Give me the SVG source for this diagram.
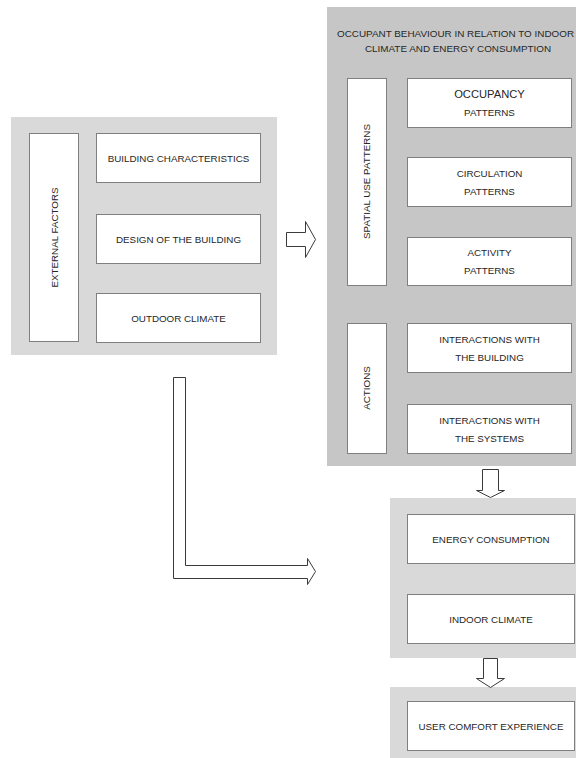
<svg xmlns="http://www.w3.org/2000/svg" width="576" height="758" viewBox="0 0 576 758">
<style>
.bg{fill:#ffffff}
.pl{fill:#d9d9d9}
.pd{fill:#c6c6c6}
.box{fill:#ffffff;stroke:#7f7f7f;stroke-width:1}
.t{font-family:"Liberation Sans",Arial,sans-serif;font-size:9.8px;fill:#262626;text-anchor:middle}
.big{font-size:11.2px}
.ttl{font-size:9.9px}
.arr{fill:#ffffff;stroke:#3a3a3a;stroke-width:1;stroke-linejoin:miter}
</style>
<rect class="bg" x="0" y="0" width="576" height="758"/>
<g id="external-panel">
<rect class="pl" x="11" y="117" width="266" height="238"/>
</g>
<g id="external-factors">
<rect class="box" x="29.5" y="133.5" width="49" height="208"/>
<text class="t" transform="translate(57.5,237.5) rotate(-90)">EXTERNAL FACTORS</text>
</g>
<g id="building-characteristics">
<rect class="box" x="96.5" y="133.5" width="164" height="49"/>
<text class="t" x="178.5" y="161.5">BUILDING CHARACTERISTICS</text>
</g>
<g id="design">
<rect class="box" x="96.5" y="214.5" width="164" height="49"/>
<text class="t" x="178.5" y="242.5">DESIGN OF THE BUILDING</text>
</g>
<g id="outdoor-climate">
<rect class="box" x="96.5" y="293.5" width="164" height="49"/>
<text class="t" x="178.5" y="321.5">OUTDOOR CLIMATE</text>
</g>
<g id="behaviour-panel">
<rect class="pd" x="327" y="7" width="260" height="459"/>
<text class="t ttl" x="455.5" y="37">OCCUPANT BEHAVIOUR IN RELATION TO INDOOR</text>
<text class="t ttl" x="458" y="52">CLIMATE AND ENERGY CONSUMPTION</text>
</g>
<g id="spatial-use-patterns">
<rect class="box" x="347.5" y="78.5" width="39" height="207"/>
<text class="t" transform="translate(370,181.5) rotate(-90)">SPATIAL USE PATTERNS</text>
</g>
<g id="occupancy">
<rect class="box" x="407.5" y="78.5" width="164" height="49"/>
<text class="t big" x="489.5" y="98">OCCUPANCY</text>
<text class="t" x="489.5" y="115.5">PATTERNS</text>
</g>
<g id="circulation">
<rect class="box" x="407.5" y="157.5" width="164" height="49"/>
<text class="t" x="489.5" y="176.5">CIRCULATION</text>
<text class="t" x="489.5" y="194.5">PATTERNS</text>
</g>
<g id="activity">
<rect class="box" x="407.5" y="237.5" width="164" height="48"/>
<text class="t" x="489.5" y="255.5">ACTIVITY</text>
<text class="t" x="489.5" y="273.5">PATTERNS</text>
</g>
<g id="actions">
<rect class="box" x="347.5" y="323.5" width="39" height="130"/>
<text class="t" transform="translate(370,388) rotate(-90)">ACTIONS</text>
</g>
<g id="interactions-building">
<rect class="box" x="407.5" y="323.5" width="164" height="49"/>
<text class="t" x="489.5" y="342.5">INTERACTIONS WITH</text>
<text class="t" x="489.5" y="360.5">THE BUILDING</text>
</g>
<g id="interactions-systems">
<rect class="box" x="407.5" y="404.5" width="164" height="49"/>
<text class="t" x="489.5" y="423.5">INTERACTIONS WITH</text>
<text class="t" x="489.5" y="441.5">THE SYSTEMS</text>
</g>
<g id="outcome-panel">
<rect class="pl" x="390" y="498" width="197" height="160"/>
</g>
<g id="energy-consumption">
<rect class="box" x="407.5" y="514.5" width="167" height="49"/>
<text class="t" x="491" y="542.5">ENERGY CONSUMPTION</text>
</g>
<g id="indoor-climate">
<rect class="box" x="407.5" y="594.5" width="167" height="49"/>
<text class="t" x="491" y="622.5">INDOOR CLIMATE</text>
</g>
<g id="comfort-panel">
<rect class="pl" x="390" y="687" width="197" height="71"/>
</g>
<g id="user-comfort">
<rect class="box" x="407.5" y="701.5" width="167" height="49"/>
<text class="t" x="491" y="729.5">USER COMFORT EXPERIENCE</text>
</g>
<g id="connectors">
<polygon class="arr" points="286.5,232.5 305.5,232.5 305.5,221.5 315.5,239.5 305.5,257.5 305.5,246.5 286.5,246.5"/>
<polygon class="arr" points="482.5,469.5 498.5,469.5 498.5,490.5 504.5,490.5 490.5,497.5 476.5,490.5 482.5,490.5"/>
<polygon class="arr" points="483.5,658.5 497.5,658.5 497.5,678.5 504.5,678.5 490.5,687.5 476.5,678.5 483.5,678.5"/>
<polygon class="arr" points="173.5,377.5 185.5,377.5 185.5,565.5 307.5,565.5 307.5,558.5 315.5,571.5 307.5,584.5 307.5,578.5 173.5,578.5"/>
</g>
</svg>
